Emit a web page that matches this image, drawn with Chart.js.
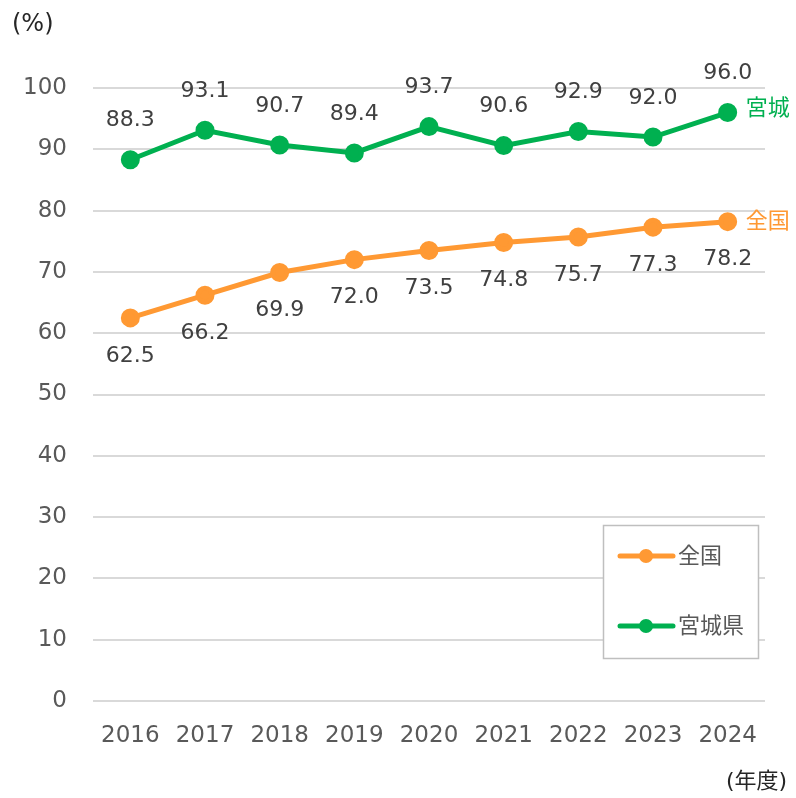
<!DOCTYPE html>
<html lang="ja">
<head>
<meta charset="UTF-8">
<title>宮城・全国</title>
<script src="https://cdn.jsdelivr.net/npm/chart.js"></script>
<style>
  body { margin: 0; background: #fff; }
  #wrap { width: 796px; height: 798px; }
</style>
</head>
<body>
<div id="wrap"><canvas id="myChart"></canvas></div>
<script>
const years = ['2016', '2017', '2018', '2019', '2020', '2021', '2022', '2023', '2024'];
const zenkoku = [62.5, 66.2, 69.9, 72.0, 73.5, 74.8, 75.7, 77.3, 78.2];
const miyagi = [88.3, 93.1, 90.7, 89.4, 93.7, 90.6, 92.9, 92.0, 96.0];

const ORANGE = '#FF9933';
const GREEN = '#00B050';
const FONT = "'DejaVu Sans', 'Noto Sans CJK JP', sans-serif";
const JFONT = "'Noto Sans CJK JP', 'DejaVu Sans', sans-serif";

// value labels, end labels, unit texts and legend box
const extras = {
  id: 'extras',
  afterDatasetsDraw(chart) {
    const c = chart.ctx;
    c.save();
    c.textAlign = 'center';
    c.textBaseline = 'middle';
    c.font = '22px ' + FONT;
    c.fillStyle = '#404040';
    chart.getDatasetMeta(0).data.forEach((p, i) => {
      c.fillText(zenkoku[i].toFixed(1), p.x, p.y + 38);
    });
    chart.getDatasetMeta(1).data.forEach((p, i) => {
      c.fillText(miyagi[i].toFixed(1), p.x, p.y - 39);
    });

    // end labels
    c.textAlign = 'left';
    c.font = '22px ' + JFONT;
    const lastO = chart.getDatasetMeta(0).data[8];
    const lastG = chart.getDatasetMeta(1).data[8];
    c.fillStyle = ORANGE;
    c.fillText('全国', lastO.x + 18, lastO.y - 2);
    c.fillStyle = GREEN;
    c.fillText('宮城', lastG.x + 18, lastG.y - 6);

    // units
    c.fillStyle = '#262626';
    c.font = '24px ' + FONT;
    c.fillText('(%)', 12, 25);
    c.font = '22px ' + FONT;
    c.fillText('(年度)', 726, 782);

    // legend
    c.fillStyle = '#fff';
    c.fillRect(603, 525, 155, 133);
    c.strokeStyle = '#BFBFBF';
    c.lineWidth = 1.5;
    c.strokeRect(603.5, 525.5, 155, 133);
    const items = [['全国', ORANGE, 556], ['宮城県', GREEN, 626]];
    items.forEach(([t, col, y]) => {
      c.strokeStyle = col;
      c.lineWidth = 5;
      c.lineCap = 'round';
      c.beginPath();
      c.moveTo(620, y);
      c.lineTo(673, y);
      c.stroke();
      c.fillStyle = col;
      c.beginPath();
      c.arc(646, y, 7, 0, Math.PI * 2);
      c.fill();
      c.fillStyle = '#595959';
      c.font = '22px ' + JFONT;
      c.fillText(t, 678, y - 1);
    });
    c.restore();
  }
};

new Chart(document.getElementById('myChart'), {
  type: 'line',
  data: {
    labels: years,
    datasets: [
      {
        label: '全国',
        data: zenkoku,
        borderColor: ORANGE,
        backgroundColor: ORANGE,
        borderWidth: 5,
        pointRadius: 7,
        pointHoverRadius: 7,
        tension: 0
      },
      {
        label: '宮城県',
        data: miyagi,
        borderColor: GREEN,
        backgroundColor: GREEN,
        borderWidth: 5,
        pointRadius: 7,
        pointHoverRadius: 7,
        tension: 0
      }
    ]
  },
  options: {
    responsive: true,
    maintainAspectRatio: false,
    animation: false,
    layout: { padding: { top: 88, right: 31, left: 0, bottom: 0 } },
    plugins: { legend: { display: false }, tooltip: { enabled: false } },
    scales: {
      x: {
        offset: true,
        grid: { display: false },
        border: { display: false },
        ticks: { color: '#595959', font: { family: FONT, size: 23 }, padding: 13, maxRotation: 0 },
        afterFit(s) { s.height = 97; }
      },
      y: {
        min: 0,
        max: 100,
        grid: { color: '#D9D9D9', lineWidth: 2, drawTicks: false },
        border: { display: false },
        ticks: { stepSize: 10, color: '#595959', font: { family: FONT, size: 23 }, padding: 26 },
        afterFit(s) { s.width = 93; }
      }
    }
  },
  plugins: [extras]
});
</script>
</body>
</html>
